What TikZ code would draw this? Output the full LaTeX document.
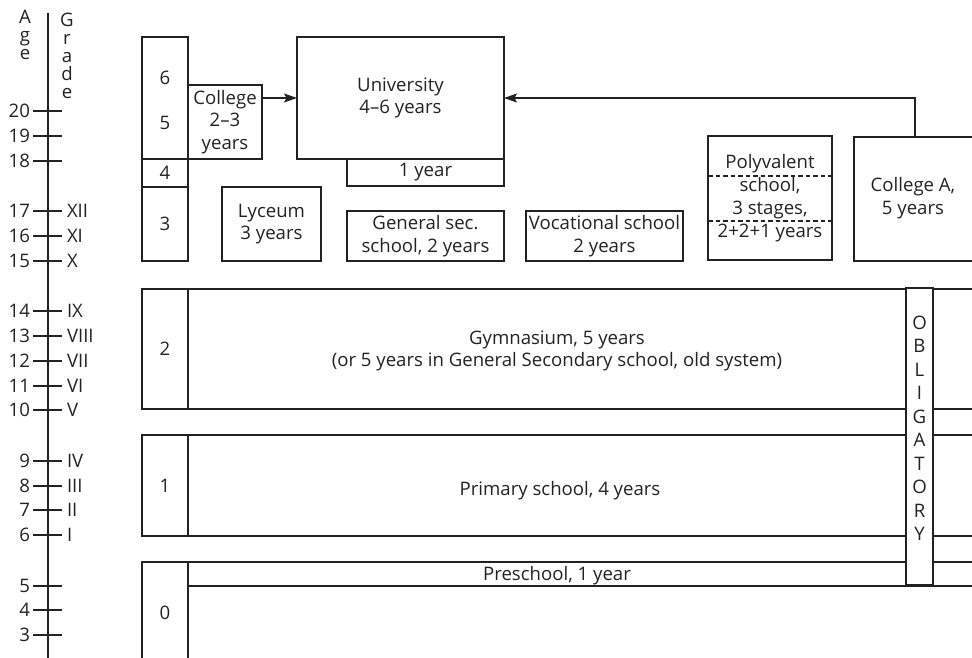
\documentclass[tikz,border=0pt]{standalone}
\usepackage{fontspec}
\setmainfont{Open Sans}
\usetikzlibrary{arrows.meta}
\definecolor{ink}{HTML}{222222}
\begin{document}
\begin{tikzpicture}[x=1pt,y=-1pt,line width=1.1pt,
  every node/.style={text=ink,inner sep=0pt,outer sep=0pt,font=\fontsize{18.6}{22.5}\selectfont},
  bx/.style={draw=ink,align=center,minimum width=#1},
  lbl/.style={anchor=base},
  tip/.style={-{Stealth[length=13pt,width=9pt,inset=2.5pt]}}]
\useasboundingbox (0,0) rectangle (972,658);
\clip (0,0) rectangle (972,658);
\begin{scope}[draw=ink]
% ---- axis ----
\draw (48,13) -- (48,660);
\foreach \l [count=\i] in {A,g,e}
  \node[lbl] (agel\i) at (25,{24+18*(\i-1)}) {\l};
\foreach \l [count=\i] in {G,r,a,d,e}
  \node[lbl] (grl\i) at (67,{27+18*(\i-1)}) {\l};
\foreach \a/\y in {20/111,19/136,18/161,17/211,16/236,15/261,14/311,13/336,12/361,11/386,10/410,9/461,8/486,7/510,6/535,5/586,4/610,3/635}{
  \draw (33,\y) -- (62,\y);
  \node[anchor=base east] (age\a) at (30,\y+6.5) {\a};
}
\foreach \g/\y in {XII/211,XI/236,X/261,IX/311,VIII/336,VII/361,VI/386,V/410,IV/461,III/486,II/510,I/535}
  \node[anchor=base west] (gr\g) at (67,\y+6.5) {\g};

% ---- upper column ----
\node[bx=46pt,minimum height=122pt] (c65) at (165,98) {};
\node (n6) at (165,78) {6};
\node (n5) at (165,123) {5};
\node[bx=46pt,minimum height=28pt] (c4) at (165,173) {4};
\node[bx=46pt,minimum height=74pt] (c3) at (165,224) {3};

\node[bx=74pt,minimum height=74pt] (college) at (225,122) {College\\2--3\\years};
\node[bx=207pt,minimum height=122pt] (univ) at (400.5,98) {University\\4--6 years};
\node[bx=157pt,minimum height=27pt] (year1) at (425.5,172.5) {1 year};
\node[bx=99pt,minimum height=74pt] (lyceum) at (271.5,224) {Lyceum\\3 years};
\node[bx=157pt,minimum height=50pt] (gensec) at (425.5,236) {General sec.\\school, 2 years};
\node[bx=157pt,minimum height=50pt] (voc) at (604.5,236) {Vocational school\\2 years};
\node[bx=124pt,minimum height=124pt,font=\fontsize{18.6}{23}\selectfont] (poly) at (770,198) {Polyvalent\\school,\\3 stages,\\2+2+1 years};
\draw[dash pattern=on 4.5pt off 3pt] (poly.west |- 0,176) -- (poly.east |- 0,176);
\draw[dash pattern=on 4.5pt off 3pt] (poly.west |- 0,221) -- (poly.east |- 0,221);
\draw (985,137) -| (854,261) -- (985,261);
\node[align=center] (collA) at (913,198) {College A,\\5 years};
\coordinate (cAtop) at (915,137);

\draw[tip] (univ.west -| college.east) -- (univ.west);
\draw[tip] (cAtop) |- (univ.east);

% ---- lower bands ----
\draw (985,289) -| (142,409) -- (985,409);
\draw (188,289) -- (188,409);
\node (n2) at (165,349) {2};
\node[align=center] (gym) at (557,351) {Gymnasium, 5 years\\(or 5 years in General Secondary school, old system)};

\draw (985,435) -| (142,536) -- (985,536);
\draw (188,435) -- (188,536);
\node (n1) at (165,486) {1};
\node[lbl] (prim) at (560,495) {Primary school, 4 years};

\draw (985,562) -| (142,670);
\draw (188,562) -- (188,670);
\draw (188,586) -- (985,586);
\node (n0) at (165,613) {0};
\node[lbl] (pre) at (557,580) {Preschool, 1 year};

\draw[fill=white] (906,288) rectangle (933,585);
\foreach \l [count=\i] in {O,B,L,I,G,A,T,O,R,Y}
  \node[lbl] (ob\i) at (919.5,{329+23.55*(\i-1)}) {\l};
\end{scope}
\end{tikzpicture}
\end{document}
